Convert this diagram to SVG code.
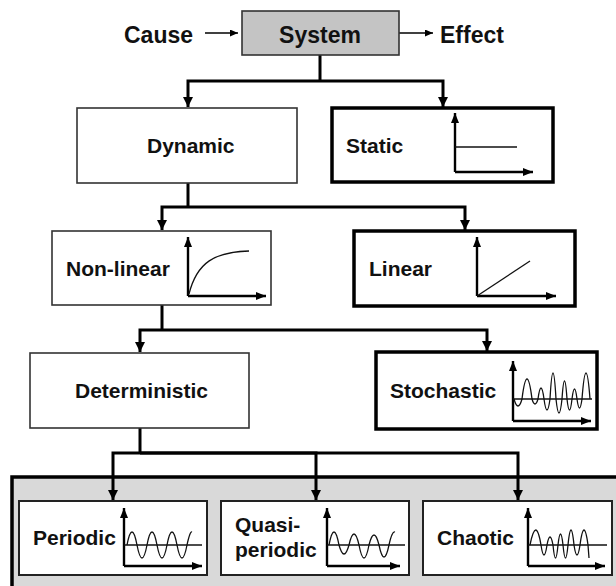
<svg xmlns="http://www.w3.org/2000/svg" width="616" height="586" viewBox="0 0 616 586">
<defs>
<style>
text{font-family:"Liberation Sans",Arial,sans-serif;font-weight:bold;fill:#111;}
.lbl{font-size:21px;}
.top{font-size:23px;}
.thin{fill:#fff;stroke:#333;stroke-width:1.6;}
.thick{fill:#fff;stroke:#000;stroke-width:3.5;}
.conn{fill:none;stroke:#000;stroke-width:3;}
.axis{fill:none;stroke:#000;stroke-width:2.4;}
.wave{fill:none;stroke:#111;stroke-width:1.3;}
</style>
<marker id="ah" markerUnits="userSpaceOnUse" markerWidth="11" markerHeight="11" refX="10" refY="5" orient="auto"><path d="M0,0 L10,5 L0,10 z" fill="#000"/></marker>
<marker id="ax" markerUnits="userSpaceOnUse" markerWidth="11" markerHeight="9" refX="10" refY="4" orient="auto"><path d="M0,0 L10,4 L0,8 z" fill="#000"/></marker>
<marker id="sm" markerUnits="userSpaceOnUse" markerWidth="9" markerHeight="8" refX="8" refY="3.5" orient="auto"><path d="M0,0 L8,3.5 L0,7 z" fill="#000"/></marker>
</defs>
<rect width="616" height="586" fill="#fff"/>
<rect id="panel" x="12" y="477" width="620" height="130" fill="#d9d9d9" stroke="#000" stroke-width="3.5"/>

<g id="connectors">
<path class="conn" d="M320,55 V81"/>
<path class="conn" d="M320,81 H188 V107" marker-end="url(#ah)"/>
<path class="conn" d="M320,81 H443 V107" marker-end="url(#ah)"/>
<path class="conn" d="M188,183 V207"/>
<path class="conn" d="M188,207 H162 V230" marker-end="url(#ah)"/>
<path class="conn" d="M188,207 H465 V230" marker-end="url(#ah)"/>
<path class="conn" d="M162,305 V330"/>
<path class="conn" d="M162,330 H140 V352" marker-end="url(#ah)"/>
<path class="conn" d="M162,330 H487 V351" marker-end="url(#ah)"/>
<path class="conn" d="M140,428 V453"/>
<path class="conn" d="M140,453 H113 V500" marker-end="url(#ah)"/>
<path class="conn" d="M140,453 H316 V500" marker-end="url(#ah)"/>
<path class="conn" d="M140,453 H518 V500" marker-end="url(#ah)"/>
<path fill="none" stroke="#000" stroke-width="1.5" d="M205,33 H238" marker-end="url(#sm)"/>
<path fill="none" stroke="#000" stroke-width="1.5" d="M399,33 H433" marker-end="url(#sm)"/>
</g>

<g id="cause"><text class="top" x="124" y="43">Cause</text></g>
<g id="effect"><text class="top" x="440" y="43">Effect</text></g>

<g id="system">
<rect x="242" y="11" width="157" height="44" fill="#c4c4c4" stroke="#333" stroke-width="1.6"/>
<text class="top" x="320" y="43" text-anchor="middle">System</text>
</g>

<g id="dynamic">
<rect class="thin" x="77" y="108" width="220" height="75"/>
<text class="lbl" x="147" y="153">Dynamic</text>
</g>

<g id="static">
<rect class="thick" x="332" y="108" width="221" height="74"/>
<text class="lbl" x="346" y="153">Static</text>
<path class="axis" d="M455,172 V113" marker-end="url(#ax)"/>
<path class="axis" d="M455,172 H533" marker-end="url(#ax)"/>
<path class="wave" d="M455,147 H517"/>
</g>

<g id="nonlinear">
<rect class="thin" x="52" y="231" width="219" height="74"/>
<text class="lbl" x="66" y="276">Non-linear</text>
<path class="axis" d="M188,296 V237" marker-end="url(#ax)"/>
<path class="axis" d="M188,296 H266" marker-end="url(#ax)"/>
<path class="wave" d="M189,294 C197,262 215,252 249,251"/>
</g>

<g id="linear">
<rect class="thick" x="354" y="231" width="221" height="75"/>
<text class="lbl" x="369" y="276">Linear</text>
<path class="axis" d="M477,296 V237" marker-end="url(#ax)"/>
<path class="axis" d="M477,296 H556" marker-end="url(#ax)"/>
<path class="wave" d="M477,296 L530,261"/>
</g>

<g id="deterministic">
<rect class="thin" x="30" y="353" width="219" height="75"/>
<text class="lbl" x="75" y="398">Deterministic</text>
</g>

<g id="stochastic">
<rect class="thick" x="376" y="352" width="221" height="77"/>
<text class="lbl" x="390" y="398">Stochastic</text>
<path class="axis" d="M513,421 V361" marker-end="url(#ax)"/>
<path class="axis" d="M513,421 H591" marker-end="url(#ax)"/>
<path class="wave" d="M513,399 H592"/>
<path class="wave" d="M514,399 q4,14 8,0 q5,-40 10,0 q3,10 6,0 q3,-22 6,0 q3,22 6,0 q3,-52 6,0 q3,28 6,0 q2.5,-36 5,0 q2.5,22 5,0 q2.5,-20 5,0 q2.5,18 5,0 q4,-52 8,0"/>
</g>

<g id="periodic">
<rect fill="#fff" stroke="#222" stroke-width="2" x="19" y="501" width="188" height="74"/>
<text class="lbl" x="33" y="545">Periodic</text>
<path class="axis" d="M124,566 V508" marker-end="url(#ax)"/>
<path class="axis" d="M124,566 H202" marker-end="url(#ax)"/>
<path class="wave" d="M124,545 H202"/>
<path class="wave" d="M127,545 q5,-26 10,0 t10,0 t10,0 t10,0 t10,0 t10,0 q3,-14 5,-13"/>
</g>

<g id="quasiperiodic">
<rect fill="#fff" stroke="#222" stroke-width="2" x="221" y="501" width="188" height="74"/>
<text class="lbl" x="235" y="532">Quasi-</text>
<text class="lbl" x="235" y="557">periodic</text>
<path class="axis" d="M327,566 V508" marker-end="url(#ax)"/>
<path class="axis" d="M327,566 H400" marker-end="url(#ax)"/>
<path class="wave" d="M327,545 H405"/>
<path class="wave" d="M329,545 q5,-26 10,0 q5,18 10,0 q5,-22 10,0 q5,26 10,0 q5,-20 10,0 q5,24 10,0 q3,-14 6,-13"/>
</g>

<g id="chaotic">
<rect fill="#fff" stroke="#222" stroke-width="2" x="423" y="501" width="189" height="74"/>
<text class="lbl" x="437" y="545">Chaotic</text>
<path class="axis" d="M528,566 V508" marker-end="url(#ax)"/>
<path class="axis" d="M528,566 H605" marker-end="url(#ax)"/>
<path class="wave" d="M528,545 H607"/>
<path class="wave" d="M530,545 q6,-30 11,0 q3,20 6,0 q3,-16 6,0 q2.5,26 5,0 q2.5,-22 5,0 q2.5,26 5,0 q3,-30 6,0 q3,20 6,0 q4,-30 8,0 l1,13"/>
</g>
</svg>
